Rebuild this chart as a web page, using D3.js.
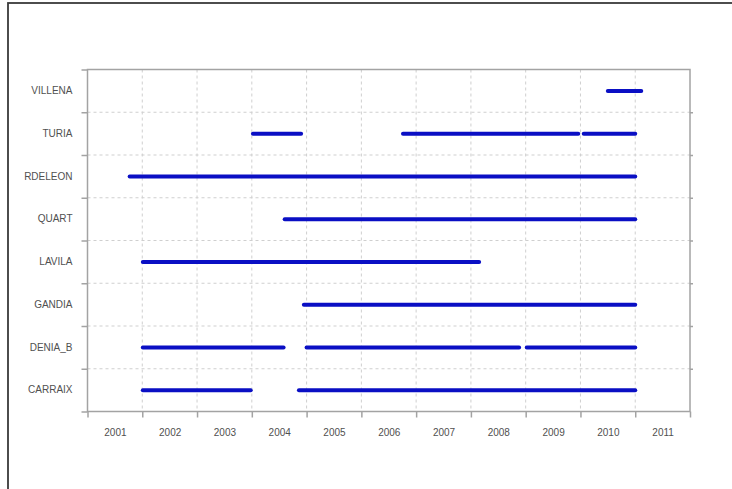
<!DOCTYPE html>
<html>
<head>
<meta charset="utf-8">
<script src="https://cdn.jsdelivr.net/npm/d3@7"></script>
<style>
  html, body { margin: 0; padding: 0; background: #fff; }
  svg { display: block; }
</style>
</head>
<body>
<svg id="chart" width="732" height="489"></svg>
<script>
// Stations, listed top to bottom
const stations = ["VILLENA", "TURIA", "RDELEON", "QUART", "LAVILA", "GANDIA", "DENIA_B", "CARRAIX"];

// Data availability periods (decimal years), one entry per segment
const segStation = ["VILLENA", "TURIA", "TURIA", "TURIA", "RDELEON", "QUART", "LAVILA", "GANDIA",
                    "DENIA_B", "DENIA_B", "DENIA_B", "CARRAIX", "CARRAIX"];
const segStart = [2010.50, 2004.02, 2006.76, 2010.06, 2001.77, 2004.60, 2002.01, 2004.95,
                  2002.01, 2005.00, 2009.02, 2002.01, 2004.86];
const segEnd   = [2011.11, 2004.90, 2009.96, 2011.00, 2011.00, 2011.00, 2008.15, 2011.00,
                  2004.58, 2008.88, 2011.00, 2003.98, 2011.00];

// Year boundaries and year labels (each label sits in the middle of its year)
const yearTicks = [2001, 2002, 2003, 2004, 2005, 2006, 2007, 2008, 2009, 2010, 2011, 2012];
const yearLabels = ["2001", "2002", "2003", "2004", "2005", "2006", "2007", "2008", "2009", "2010", "2011"];

const svg = d3.select("#chart");
const W = 732, H = 489;
const plot = { left: 87.5, right: 690, top: 69.5, bottom: 411.5 };

// Outer frame (only its left and top edges fall inside the canvas)
svg.append("rect")
  .attr("x", 8).attr("y", 3)
  .attr("width", W + 20).attr("height", H + 20)
  .attr("fill", "#fff")
  .attr("stroke", "#3a3a3a")
  .attr("stroke-width", 1.8);

const x = d3.scaleLinear().domain([2001, 2012]).range([plot.left, plot.right]);
const yBand = d3.scaleBand().domain(stations).range([plot.top, plot.bottom]).padding(0);
const yEdge = d3.scaleLinear().domain([0, stations.length]).range([plot.top, plot.bottom]);

const axisColor = "#a3a3a3";
const gridColor = "#cfcfcf";
const textColor = "#505050";
const font = "Liberation Sans, Arial, sans-serif";

// Dashed grid
const grid = svg.append("g");
grid.selectAll("line.v")
  .data(yearTicks.slice(1, -1))
  .join("line")
  .attr("x1", d => x(d)).attr("x2", d => x(d))
  .attr("y1", plot.top).attr("y2", plot.bottom)
  .attr("stroke", gridColor).attr("stroke-width", 1)
  .attr("stroke-dasharray", "3,3");
grid.selectAll("line.h")
  .data(d3.range(1, stations.length))
  .join("line")
  .attr("x1", plot.left).attr("x2", plot.right)
  .attr("y1", d => yEdge(d)).attr("y2", d => yEdge(d))
  .attr("stroke", gridColor).attr("stroke-width", 1)
  .attr("stroke-dasharray", "3,3");

// Plot box
svg.append("rect")
  .attr("x", plot.left).attr("y", plot.top)
  .attr("width", plot.right - plot.left).attr("height", plot.bottom - plot.top)
  .attr("fill", "none").attr("stroke", axisColor).attr("stroke-width", 1.5);

function styleAxis(g) {
  g.select(".domain").remove();
  g.selectAll(".tick line").attr("stroke", axisColor).attr("stroke-width", 1.5);
  g.selectAll(".tick text").attr("fill", textColor)
    .style("font-family", font).style("font-size", "10px");
}

// Bottom: year boundary ticks
svg.append("g")
  .attr("transform", `translate(0,${plot.bottom})`)
  .call(d3.axisBottom(x).tickValues(yearTicks).tickSize(6).tickFormat(""))
  .call(styleAxis);

// Bottom: year labels centred in each year
svg.append("g")
  .attr("transform", `translate(0,${plot.bottom})`)
  .call(d3.axisBottom(x).tickValues(yearLabels.map(d => +d + 0.5))
    .tickSize(0).tickPadding(17).tickFormat((d, i) => yearLabels[i]))
  .call(styleAxis);

// Left: band boundary ticks
svg.append("g")
  .attr("transform", `translate(${plot.left},0)`)
  .call(d3.axisLeft(yEdge).tickValues(d3.range(0, stations.length + 1)).tickSize(6).tickFormat(""))
  .call(styleAxis);

// Right: short boundary ticks
svg.append("g")
  .attr("transform", `translate(${plot.right},0)`)
  .call(d3.axisRight(yEdge).tickValues(d3.range(1, stations.length)).tickSize(3).tickFormat(""))
  .call(styleAxis);

// Left: station names
svg.append("g")
  .attr("transform", `translate(${plot.left},0)`)
  .call(d3.axisLeft(yBand).tickSize(0).tickPadding(15))
  .call(styleAxis);

// Availability segments
const segments = segStation.map((s, i) => ({ station: s, start: segStart[i], end: segEnd[i] }));
svg.append("g")
  .selectAll("line")
  .data(segments)
  .join("line")
  .attr("x1", d => x(d.start)).attr("x2", d => x(d.end))
  .attr("y1", d => yBand(d.station) + yBand.bandwidth() / 2)
  .attr("y2", d => yBand(d.station) + yBand.bandwidth() / 2)
  .attr("stroke", "#0a0fc4")
  .attr("stroke-width", 4)
  .attr("stroke-linecap", "round");
</script>
</body>
</html>
